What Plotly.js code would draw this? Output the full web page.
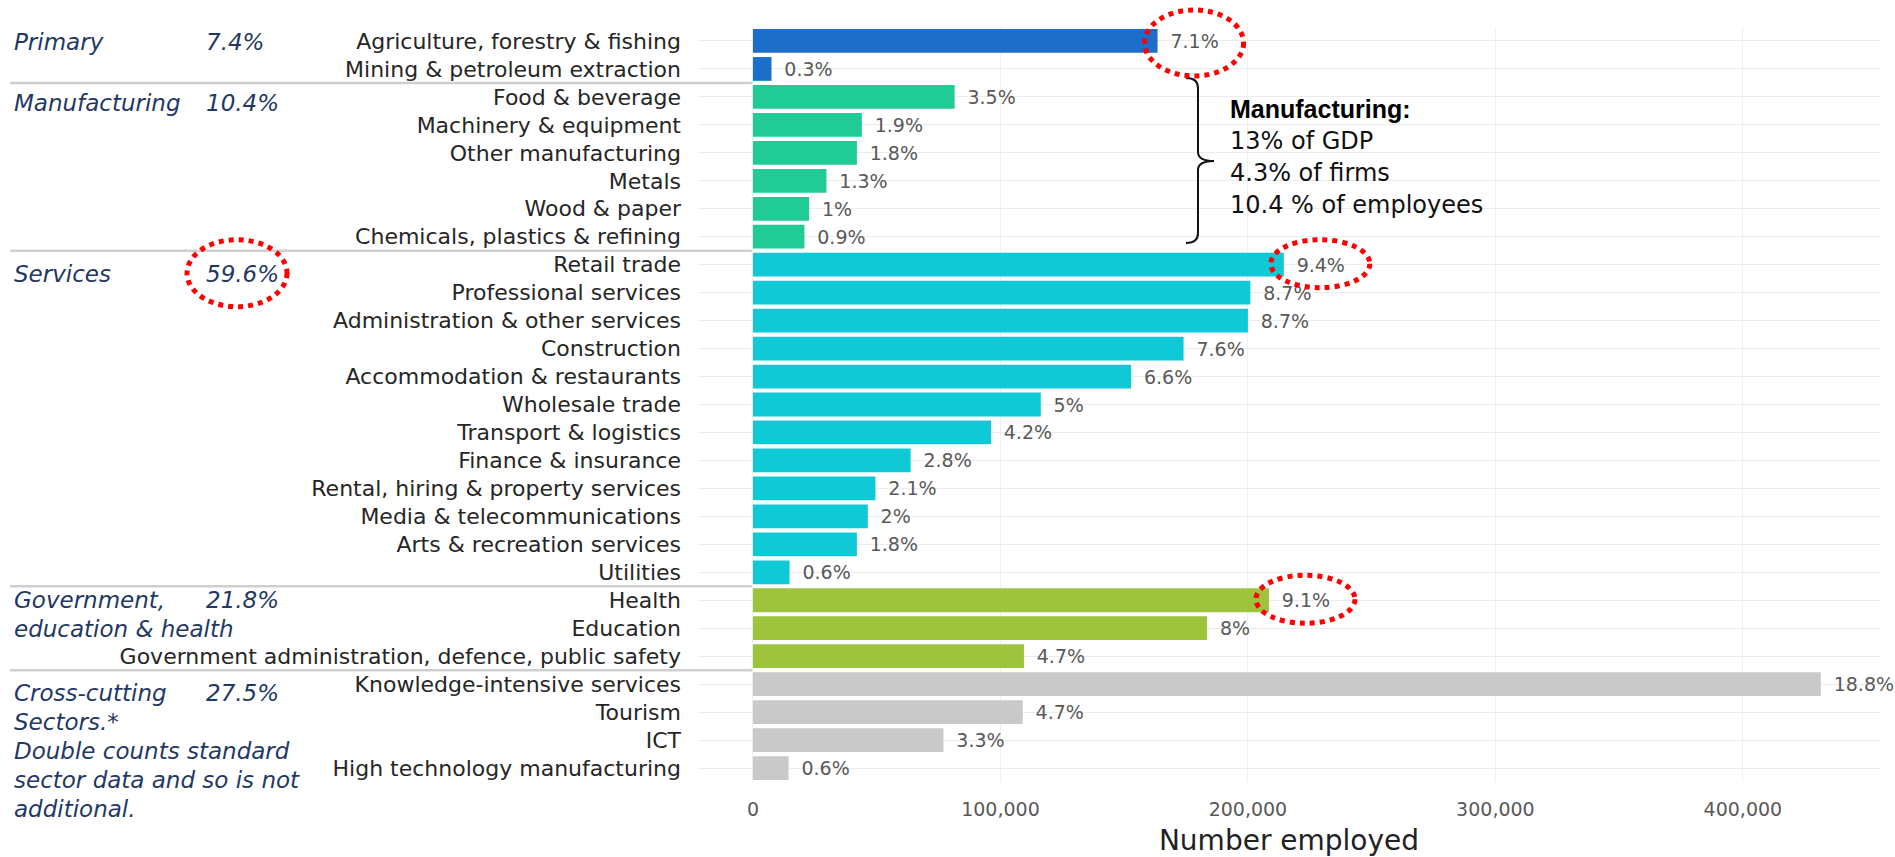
<!DOCTYPE html>
<html>
<head>
<meta charset="utf-8">
<script src="https://cdn.plot.ly/plotly-3.0.1.min.js"></script>
<style>html,body{margin:0;padding:0;background:#fff;}#chart{width:1895px;height:857px;}</style>
</head>
<body>
<div id="chart"></div>
<script>
// ---------- DATA ----------
const categories = [
  'Agriculture, forestry & fishing',
  'Mining & petroleum extraction',
  'Food & beverage',
  'Machinery & equipment',
  'Other manufacturing',
  'Metals',
  'Wood & paper',
  'Chemicals, plastics & refining',
  'Retail trade',
  'Professional services',
  'Administration & other services',
  'Construction',
  'Accommodation & restaurants',
  'Wholesale trade',
  'Transport & logistics',
  'Finance & insurance',
  'Rental, hiring & property services',
  'Media & telecommunications',
  'Arts & recreation services',
  'Utilities',
  'Health',
  'Education',
  'Government administration, defence, public safety',
  'Knowledge-intensive services',
  'Tourism',
  'ICT',
  'High technology manufacturing'
];
const employed = [163500, 7500, 81500, 44000, 42000, 29700, 22700, 20800,
  214500, 201000, 200000, 174000, 152800, 116300, 96200, 63700, 49500, 46400, 42000, 14800,
  208500, 183500, 109500,
  431500, 109000, 77000, 14400];
const shareLabels = ['7.1%', '0.3%', '3.5%', '1.9%', '1.8%', '1.3%', '1%', '0.9%',
  '9.4%', '8.7%', '8.7%', '7.6%', '6.6%', '5%', '4.2%', '2.8%', '2.1%', '2%', '1.8%', '0.6%',
  '9.1%', '8%', '4.7%',
  '18.8%', '4.7%', '3.3%', '0.6%'];
const groupSizes = [2, 6, 12, 3, 4];
const groupLabelLines = [
  ['Primary'],
  ['Manufacturing'],
  ['Services'],
  ['Government,', 'education & health'],
  ['Cross-cutting', 'Sectors.*', 'Double counts standard', 'sector data and so is not', 'additional.']
];
const groupShares = ['7.4%', '10.4%', '59.6%', '21.8%', '27.5%'];
const xTicks = [0, 100000, 200000, 300000, 400000];
const noteLines = ['Manufacturing:', '13% of GDP', '4.3% of firms', '10.4 % of employees'];
const circledBars = ['Agriculture, forestry & fishing', 'Retail trade', 'Health'];
const circledGroup = 'Services';

// ---------- STYLE / LAYOUT ----------
const groupColors = ['#1d6dca', '#20cb95', '#10c9d6', '#9ec33c', '#c9c9c9'];
const FONT = 'DejaVu Sans';
const W = 1895, H = 857;
const M = {l: 698, r: 15, t: 27, b: 75};
const PW = W - M.l - M.r, PH = H - M.t - M.b;
const XR = [-22200, 455400];
const N = categories.length;
const pitch = PH / N;
const px = x => (x - M.l) / PW;             // pixel -> paper x
const py = y => 1 - (y - M.t) / PH;         // pixel -> paper y
const dataX = v => M.l + (v - XR[0]) / (XR[1] - XR[0]) * PW;
const rowY = i => M.t + (i + 0.5) * pitch;

const colors = [];
const groupStart = [];
let k = 0;
groupSizes.forEach((n, g) => { groupStart.push(k); for (let j = 0; j < n; j++) colors.push(groupColors[g]); k += n; });

const trace = {
  type: 'bar', orientation: 'h',
  y: categories, x: employed,
  text: shareLabels,
  texttemplate: '\u2009\u00a0%{text}',
  textposition: 'outside',
  cliponaxis: false,
  constraintext: 'none',
  outsidetextfont: {family: FONT, size: 19, color: '#595959'},
  marker: {color: colors, line: {width: 0}},
  hoverinfo: 'x+y'
};

const shapes = [];
const annotations = [];

// group separators
let cum = 0;
groupSizes.slice(0, -1).forEach(n => {
  cum += n;
  const y = py(M.t + cum * pitch);
  shapes.push({type: 'line', xref: 'paper', yref: 'paper', x0: px(10), x1: px(dataX(0) - 1), y0: y, y1: y,
    line: {color: '#cfcfcf', width: 2.5}});
});

// group labels
const groupYOffset = [1, 6, 9, 0, 9];
groupLabelLines.forEach((lines, g) => {
  const y0 = rowY(groupStart[g]) + groupYOffset[g];
  lines.forEach((t, j) => {
    annotations.push({xref: 'paper', yref: 'paper', x: px(12), y: py(y0 + j * 29), xanchor: 'left', yanchor: 'middle',
      text: t, showarrow: false, font: {family: FONT, size: 23, color: '#1f3864', style: 'italic'}});
  });
  annotations.push({xref: 'paper', yref: 'paper', x: px(204), y: py(y0), xanchor: 'left', yanchor: 'middle',
    text: groupShares[g], showarrow: false, font: {family: FONT, size: 23, color: '#1f3864', style: 'italic'}});
});

// manufacturing note
noteLines.forEach((t, j) => {
  annotations.push({xref: 'paper', yref: 'paper', x: px(1228), y: py(109 + j * 32), xanchor: 'left', yanchor: 'middle',
    text: j === 0 ? '<b>' + t + '</b>' : t, showarrow: false,
    font: j === 0 ? {family: 'Liberation Sans', size: 25, color: '#000'} : {family: FONT, size: 24, color: '#111'}});
});
// brace
(function () {
  const bx = 1198, top = 78, mid = 161, bot = 243;
  const P = (x, y) => px(x).toFixed(5) + ',' + py(y).toFixed(5);
  const path = 'M' + P(bx - 12, top) + ' Q' + P(bx, top) + ' ' + P(bx, top + 10) +
    ' L' + P(bx, mid - 9) + ' Q' + P(bx, mid) + ' ' + P(bx + 16, mid) +
    ' Q' + P(bx, mid) + ' ' + P(bx, mid + 9) +
    ' L' + P(bx, bot - 10) + ' Q' + P(bx, bot) + ' ' + P(bx - 12, bot);
  shapes.push({type: 'path', xref: 'paper', yref: 'paper', path: path, line: {color: '#111', width: 2}});
})();

// red dotted circles
const redLine = {color: '#ff0000', width: 5, dash: '5px,5px'};
circledBars.forEach((c, j) => {
  const i = categories.indexOf(c);
  const end = dataX(employed[i]);
  const cy = rowY(i) + (j === 0 ? 2 : -1);
  const hh = j === 0 ? 33 : 24;
  shapes.push({type: 'circle', xref: 'paper', yref: 'paper',
    x0: px(end - 13), x1: px(end + 86), y0: py(cy - hh), y1: py(cy + hh), line: redLine});
});
(function () {
  const g = groupLabelLines.findIndex(l => l[0] === circledGroup);
  const cy = rowY(groupStart[g]) + groupYOffset[g];
  shapes.push({type: 'circle', xref: 'paper', yref: 'paper',
    x0: px(187), x1: px(287), y0: py(cy - 34), y1: py(cy + 33), line: redLine});
})();

const layout = {
  width: W, height: H,
  margin: M,
  paper_bgcolor: '#ffffff', plot_bgcolor: '#ffffff',
  showlegend: false,
  bargap: 0.15,
  font: {family: FONT},
  xaxis: {
    range: XR, tickvals: xTicks, tickformat: ',d',
    tickfont: {family: FONT, size: 19, color: '#595959'},
    showgrid: true, gridcolor: '#f0f0f0', zeroline: false, showline: false, ticks: '',
    ticklabelstandoff: 14,
    title: {text: 'Number employed', font: {family: FONT, size: 28, color: '#222'}, standoff: 11}
  },
  yaxis: {
    type: 'category', range: [N - 0.5, -0.5],
    tickfont: {family: FONT, size: 22, color: '#262626'},
    showgrid: true, gridcolor: '#ececec', zeroline: false, showline: false, ticks: '',
    ticklabelstandoff: 16
  },
  shapes: shapes,
  annotations: annotations
};

Plotly.newPlot('chart', [trace], layout, {displayModeBar: false, staticPlot: true});
</script>
</body>
</html>
